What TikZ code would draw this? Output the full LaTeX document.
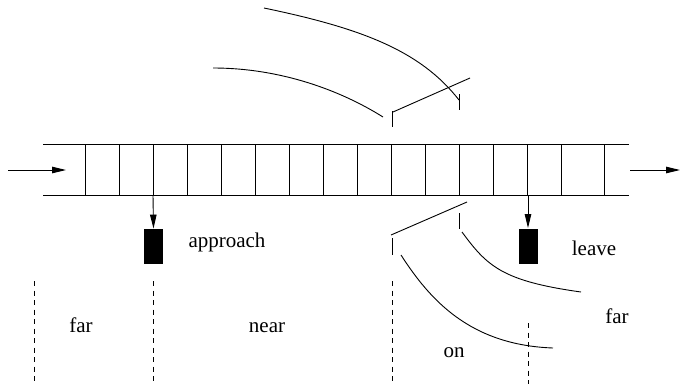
\documentclass[tikz,border=0pt]{standalone}
\usepackage{fontspec}
\setmainfont{Liberation Serif}
\usetikzlibrary{arrows.meta}
\begin{document}
\begin{tikzpicture}[
		x=1pt, y=-1pt,
		line width=0.9pt,
		tip/.style={-{Triangle[length=14pt,width=6.5pt]}},
		car/.style={rectangle,fill=black,minimum width=19pt,minimum height=35pt,inner sep=0pt},
		lbl/.style={anchor=base,font=\fontsize{21}{24}\selectfont},
		zone/.style={dash pattern=on 5pt off 4.5pt}
	]
	\useasboundingbox (0,0) rectangle (680,384);

	\draw (43,144) -- (629,144);
	\draw (43,195) -- (629,195);
	\foreach \x in {85,119,...,562}
		\draw (\x,144) -- (\x,195);
	\draw (604,144) -- (604,195);

	\coordinate (inflow) at (8,170);
	\coordinate (trackin) at (66,170);
	\coordinate (trackout) at (630,170);
	\coordinate (outflow) at (680,170);
	\draw[tip] (inflow) -- (trackin);
	\draw[tip] (trackout) -- (outflow);

	\node[car] (approachcar) at (153.5,246.5) {};
	\node[car] (leavecar) at (528,246) {};
	\coordinate (approachcell) at (153,195);
	\coordinate (leavecell) at (528,195);
	\draw[tip] (approachcell) -- (approachcar.north);
	\draw[tip] (leavecell) -- (leavecar.north);

	\node[lbl] (approachlbl) at (227,247) {approach};
	\node[lbl] (leavelbl) at (594,255) {leave};

	\draw (264,8) .. controls (360,28) and (420,50) .. (459,100);
	\draw (213,68) .. controls (280,68) and (340,90) .. (383,117);
	\draw (393,112) -- (470,78);
	\draw (392,111) -- (392,127);
	\draw (459,94) -- (459,110);

	\draw (391,235) -- (467,202);
	\draw (392,238) -- (392,255);
	\draw (459,213) -- (459,229);
	\draw (401,255) .. controls (430,300) and (470,345) .. (553,348);
	\draw (462,232) .. controls (487,266) and (502,281) .. (581,292);

	\draw[zone] (34,281) -- (34,384);
	\draw[zone] (153,281) -- (153,384);
	\draw[zone] (392,281) -- (392,384);
	\draw[zone] (528,323) -- (528,384);

	\node[lbl] (farleft) at (81,332) {far};
	\node[lbl] (nearlbl) at (267,332) {near};
	\node[lbl] (onlbl) at (454,357) {on};
	\node[lbl] (farright) at (617,323) {far};
\end{tikzpicture}
\end{document}
